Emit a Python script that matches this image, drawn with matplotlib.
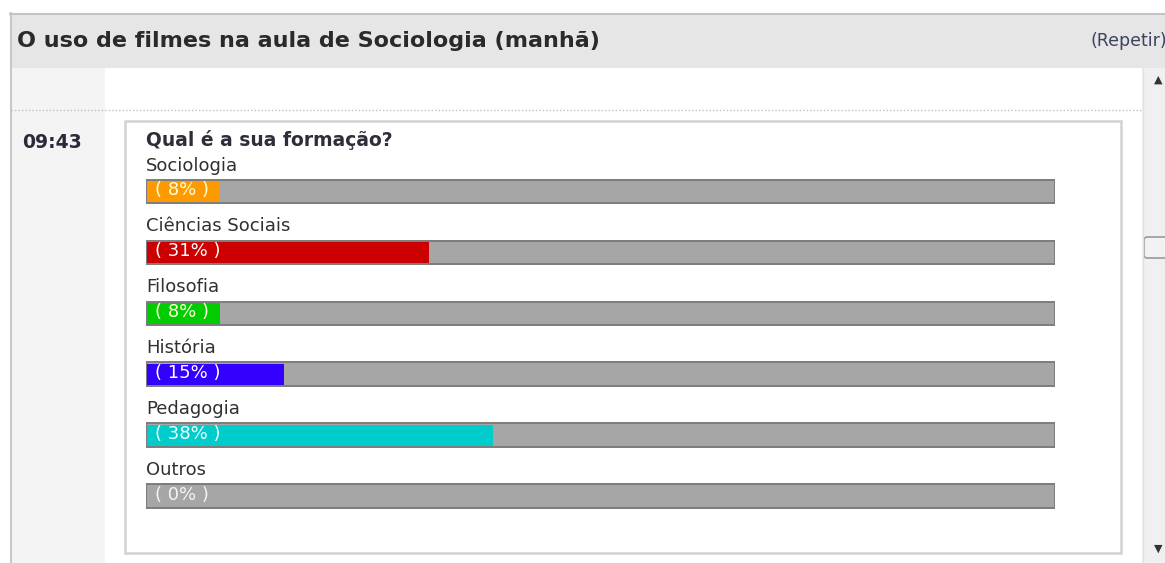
import matplotlib.pyplot as plt
from matplotlib.patches import Rectangle, FancyBboxPatch

# -----------------------------
# Dados
# -----------------------------
titulo = 'O uso de filmes na aula de Sociologia (manhã)'
pergunta = 'Qual é a sua formação?'
hora = '09:43'
categorias = ['Sociologia', 'Ciências Sociais', 'Filosofia', 'História', 'Pedagogia', 'Outros']
percentuais = [8, 31, 8, 15, 38, 0]
cores = ['#ff9900', '#cc0000', '#00cc00', '#3300ff', '#00cccc', '#a6a6a6']
cor_texto_pct = ['#ffffd8', '#ffffff', '#ffffd8', '#ffffff', '#f0ffff', '#f4f4f4']

W, H = 1165, 563
plt.rcParams['font.family'] = ['DejaVu Sans']

fig = plt.figure(figsize=(W / 100, H / 100), dpi=100)

# fundo em coordenadas de pixel
bg = fig.add_axes([0, 0, 1, 1])
bg.set_xlim(0, W)
bg.set_ylim(H, 0)
bg.axis('off')

# -----------------------------
# Moldura da página
# -----------------------------
bg.add_patch(Rectangle((10, 13), W - 10, 55, facecolor='#e6e6e6', edgecolor='none'))
bg.plot([10, W], [13.5, 13.5], color='#c4c4c4', lw=1.5)
bg.plot([10.5, 10.5], [13, H], color='#c8c8c8', lw=1.5)
bg.add_patch(Rectangle((11, 68), 94, H - 68, facecolor='#f4f4f4', edgecolor='none'))
bg.add_patch(Rectangle((1142, 68), W - 1142, H - 68, facecolor='#f0f0f0', edgecolor='none'))
bg.plot([1142.5, 1142.5], [68, H], color='#e2e2e2', lw=1)
bg.plot([11, 1141], [110, 110], color='#c0c0c0', lw=1, ls=(0, (1, 1.5)))

bg.text(17, 41, titulo, fontsize=16, fontweight='bold', color='#2a2a2a', va='center', ha='left')
bg.text(1090, 41, '(Repetir)', fontsize=12.5, color='#3a4460', va='center', ha='left')
bg.text(22, 143, hora, fontsize=13.5, fontweight='bold', color='#2a2a3a', va='center', ha='left')

# barra de rolagem
bg.text(1158, 80, '▲', fontsize=8, color='#333333', ha='center', va='center')
bg.text(1158, 549, '▼', fontsize=8, color='#333333', ha='center', va='center')
bg.add_patch(FancyBboxPatch((1144, 237), 24, 21, boxstyle='round,pad=0,rounding_size=3',
                            facecolor='#f2f2f2', edgecolor='#9a9a9a', lw=1.2))

# caixa da pergunta
bg.add_patch(Rectangle((125, 120.5), 996, 432, facecolor='white', edgecolor='#d2d2d2', lw=1.8))
bg.text(146, 140, pergunta, fontsize=13.5, fontweight='bold', color='#2e2e3a', va='center', ha='left')

# -----------------------------
# Barras
# -----------------------------
passo = 60.9
y0 = 191.5
topo = y0 - passo
base = y0 + 5.5 * passo
ax = fig.add_axes([146 / W, 1 - base / H, (1055 - 146) / W, (base - topo) / H])
ax.set_xlim(0, 100)
ax.set_ylim(5.5, -1)
ax.axis('off')

pos = list(range(len(categorias)))
altura = 23.5 / passo
ax.barh(pos, [100] * len(pos), height=altura, color='#a6a6a6', edgecolor='#7c7c7c', lw=1.4)
ax.barh(pos, percentuais, height=altura - 0.04, left=0.15, color=cores, edgecolor='none')

for i, (cat, p) in enumerate(zip(categorias, percentuais)):
    ax.text(0, i - 26 / passo, cat, fontsize=13, color='#303030', va='center', ha='left')
    ax.text(1.0, i - 0.02, f'( {p}% )', fontsize=13, color=cor_texto_pct[i], va='center', ha='left')

fig.savefig('out.png', dpi=100)
